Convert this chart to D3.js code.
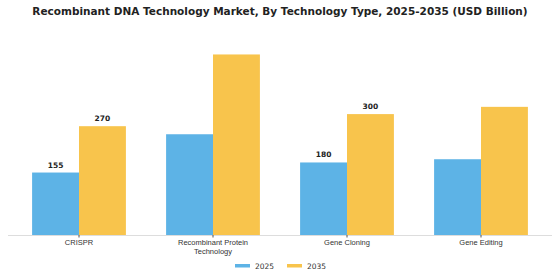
<!DOCTYPE html>
<html>
<head>
<meta charset="utf-8">
<script src="https://cdn.jsdelivr.net/npm/d3@7"></script>
<style>
  html, body { margin: 0; padding: 0; background: #fff; }
  svg { display: block; font-family: "DejaVu Sans", sans-serif; }
</style>
</head>
<body>
<div id="chart"></div>
<script>
const categories = ["CRISPR", "Recombinant Protein Technology", "Gene Cloning", "Gene Editing"];
const years = ["2025", "2035"];
const values2025 = [155, 250, 180, 188];
const values2035 = [270, 448, 300, 318];
// only some bars carry a value label in the original
const labelled = ["CRISPR", "Gene Cloning"];
const colors = ["#5db3e6", "#f8c44c"];

const width = 560;
const height = 280;
const margin = { top: 20, right: 12, bottom: 45, left: 12 };

const data = categories.map((c, i) => ({
  category: c,
  values: [
    { year: "2025", value: values2025[i] },
    { year: "2035", value: values2035[i] },
  ],
}));

const svg = d3
  .select("#chart")
  .append("svg")
  .attr("width", width)
  .attr("height", height);

svg
  .append("text")
  .attr("x", 280)
  .attr("y", 15)
  .attr("text-anchor", "middle")
  .style("font-size", "10.5px")
  .style("font-weight", "bold")
  .style("fill", "#222")
  .text("Recombinant DNA Technology Market, By Technology Type, 2025-2035 (USD Billion)");

const x = d3
  .scaleBand()
  .domain(categories)
  .range([margin.left, width - margin.right])
  .paddingInner(0.3)
  .paddingOuter(0.15);

const x1 = d3.scaleBand().domain(years).range([0, x.bandwidth()]);

const y = d3
  .scaleLinear()
  .domain([0, 500])
  .range([height - margin.bottom, height - margin.bottom - 201.5]);

const color = d3.scaleOrdinal().domain(years).range(colors);

const groups = svg
  .selectAll("g.group")
  .data(data)
  .enter()
  .append("g")
  .attr("class", "group")
  .attr("transform", (d) => "translate(" + x(d.category) + ",0)");

groups
  .selectAll("rect")
  .data((d) => d.values)
  .enter()
  .append("rect")
  .attr("x", (d) => x1(d.year))
  .attr("y", (d) => y(d.value))
  .attr("width", x1.bandwidth())
  .attr("height", (d) => y(0) - y(d.value))
  .style("fill", (d) => color(d.year));

groups
  .filter((d) => labelled.includes(d.category))
  .selectAll("text.value")
  .data((d) => d.values)
  .enter()
  .append("text")
  .attr("class", "value")
  .attr("x", (d) => x1(d.year) + x1.bandwidth() / 2)
  .attr("y", (d) => y(d.value) - 5)
  .attr("text-anchor", "middle")
  .style("font-size", "7.5px")
  .style("font-weight", "bold")
  .style("fill", "#222")
  .text((d) => d.value);

// baseline + ticks
const axis = svg
  .append("g")
  .attr("transform", "translate(0," + y(0) + ")")
  .call(d3.axisBottom(x).tickSize(2.5).tickSizeOuter(0).tickFormat(""));

axis.select(".domain").attr("d", "M8,0.5H552").style("stroke", "#ddd");
axis.selectAll(".tick line").style("stroke", "#555");

const tickLines = {
  "CRISPR": ["CRISPR"],
  "Recombinant Protein Technology": ["Recombinant Protein", "Technology"],
  "Gene Cloning": ["Gene Cloning"],
  "Gene Editing": ["Gene Editing"],
};

axis
  .selectAll(".tick")
  .append("text")
  .attr("y", 10)
  .attr("text-anchor", "middle")
  .style("font-size", "7.5px")
  .style("fill", "#333")
  .selectAll("tspan")
  .data((d) => tickLines[d])
  .enter()
  .append("tspan")
  .attr("x", 0)
  .attr("dy", (d, i) => (i === 0 ? 0 : 8.5))
  .text((d) => d);

// legend
const legend = svg
  .selectAll("g.legend")
  .data(years)
  .enter()
  .append("g")
  .attr("class", "legend")
  .attr("transform", (d, i) => "translate(" + (235 + i * 52) + ",264)");

legend
  .append("rect")
  .attr("width", 15)
  .attr("height", 3.5)
  .style("fill", (d) => color(d));

legend
  .append("text")
  .attr("x", 20)
  .attr("y", 4.5)
  .style("font-size", "7.5px")
  .style("fill", "#333")
  .text((d) => d);
</script>
</body>
</html>
